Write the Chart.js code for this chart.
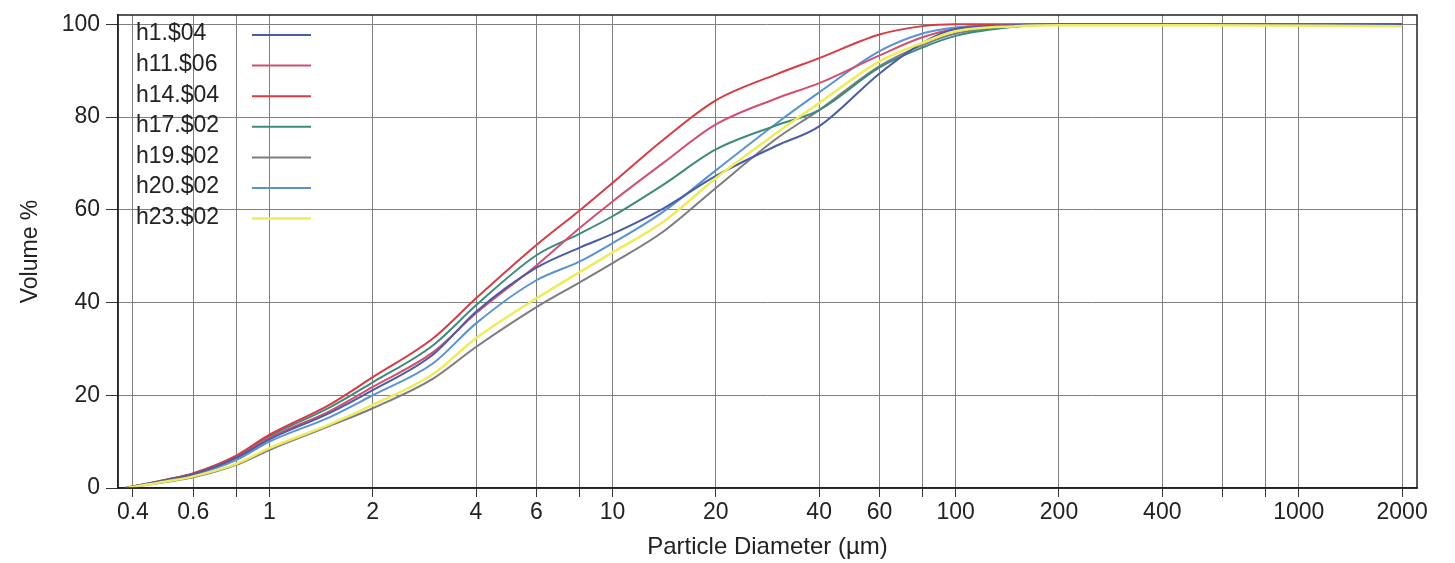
<!DOCTYPE html>
<html>
<head>
<meta charset="utf-8">
<script src="https://cdn.jsdelivr.net/npm/chart.js@4.4.1/dist/chart.umd.min.js"></script>
<style>
  html, body { margin: 0; padding: 0; background: #fff; }
  #wrap { width: 1455px; height: 563px; }
</style>
</head>
<body>
<div id="wrap"><canvas id="psd" width="1455" height="563"></canvas></div>
<script>
// particle diameters (µm) the curves are sampled at
const diameters = [0.38, 0.5, 0.6, 0.8, 1, 1.5, 2, 3, 4, 6, 8, 10, 14, 20, 30, 40, 60, 80, 100, 150, 200, 500, 2000]

// cumulative volume % for each sample
const h1 = [0, 1.7, 3.0, 6.5, 10.5, 16.2, 21.1, 28.8, 38.0, 47.5, 51.8, 54.8, 60.2, 67.3, 73.8, 78.0, 89.4, 96.0, 99.0, 99.8, 100, 100, 100]
const h11 = [0, 1.7, 3.0, 6.5, 10.8, 16.6, 21.8, 29.3, 37.7, 48.0, 56.0, 61.8, 70.0, 78.4, 84.0, 87.3, 93.3, 97.2, 99.0, 99.8, 100, 100, 100]
const h14 = [0, 1.8, 3.2, 7.0, 11.5, 18.0, 23.9, 32.3, 40.9, 52.4, 59.8, 65.8, 75.0, 83.6, 89.2, 92.7, 97.8, 99.6, 100, 100, 100, 100, 100]
const h17 = [0, 1.8, 3.1, 6.8, 11.2, 17.4, 22.8, 30.8, 39.4, 50.2, 54.8, 58.6, 65.3, 73.0, 78.2, 81.5, 90.7, 95.0, 97.5, 99.5, 100, 100, 100]
const h19 = [0, 1.3, 2.3, 5.0, 8.2, 13.4, 17.2, 23.6, 30.4, 39.0, 44.3, 48.5, 55.2, 64.7, 75.3, 81.5, 91.0, 95.5, 98.0, 99.5, 100, 100, 100]
const h20 = [0, 1.6, 2.8, 6.0, 10.0, 15.3, 20.0, 26.9, 35.5, 44.8, 48.8, 52.8, 59.5, 68.5, 78.6, 85.3, 94.2, 98.0, 99.3, 99.9, 100, 100, 100]
const h23 = [0, 1.4, 2.5, 5.2, 8.6, 13.7, 17.9, 24.6, 32.3, 40.9, 46.5, 50.8, 57.3, 66.8, 76.5, 83.0, 92.0, 96.0, 98.5, 99.6, 99.8, 99.8, 99.6]

const seriesNames = ['h1.$04', 'h11.$06', 'h14.$04', 'h17.$02', 'h19.$02', 'h20.$02', 'h23.$02']
const seriesValues = [h1, h11, h14, h17, h19, h20, h23]
const seriesColors = ['#4b5ca6', '#d2506f', '#d63c45', '#3e8a7b', '#7c7c82', '#5a92d4', '#eeec5a']

// axis ticks
const gridTicks = [0.4, 0.6, 0.8, 1, 2, 4, 6, 8, 10, 20, 40, 60, 80, 100, 200, 400, 600, 800, 1000, 2000]
const labelTicks = [0.4, 0.6, 1, 2, 4, 6, 10, 20, 40, 60, 100, 200, 400, 1000, 2000]
const yTicks = [0, 20, 40, 60, 80, 100]

const FONT = "'Liberation Sans', Arial, sans-serif"
const INK = '#222'

const datasets = seriesNames.map((name, i) => ({
  label: name,
  data: diameters.map((d, j) => ({ x: d, y: seriesValues[i][j] })),
  borderColor: seriesColors[i],
  backgroundColor: seriesColors[i],
  borderWidth: i === 6 ? 2.5 : 2,
  pointRadius: 0,
  cubicInterpolationMode: 'monotone',
  order: i === 6 ? -1 : i
}))

// legend drawn inside the plot, text first then a line sample
const insideLegend = {
  id: 'insideLegend',
  afterDatasetsDraw(chart) {
    const { ctx, chartArea } = chart
    ctx.save()
    ctx.font = '23px ' + FONT
    ctx.textBaseline = 'middle'
    ctx.textAlign = 'left'
    seriesNames.forEach((name, i) => {
      const y = chartArea.top + 19 + i * 30.6
      ctx.fillStyle = INK
      ctx.fillText(name, chartArea.left + 18, y)
      ctx.strokeStyle = seriesColors[i]
      ctx.lineWidth = i === 6 ? 2.5 : 2
      ctx.beginPath()
      ctx.moveTo(chartArea.left + 134, y + 1)
      ctx.lineTo(chartArea.left + 193, y + 1)
      ctx.stroke()
    })
    ctx.restore()
  }
}

// box round the plot area
const frame = {
  id: 'frame',
  afterDraw(chart) {
    const { ctx, chartArea } = chart
    ctx.save()
    ctx.strokeStyle = INK
    ctx.lineWidth = 1.5
    ctx.strokeRect(chartArea.left, chartArea.top, chartArea.right - chartArea.left, chartArea.bottom - chartArea.top)
    ctx.restore()
  }
}

new Chart(document.getElementById('psd').getContext('2d'), {
  type: 'line',
  data: { datasets },
  plugins: [insideLegend, frame],
  options: {
    responsive: false,
    animation: false,
    layout: { padding: { top: 15, right: 38, left: 0, bottom: 0 } },
    plugins: { legend: { display: false }, tooltip: { enabled: false } },
    scales: {
      x: {
        type: 'logarithmic',
        min: 0.362,
        max: 2210,
        afterBuildTicks: (scale) => { scale.ticks = gridTicks.map(v => ({ value: v })) },
        afterFit: (scale) => { scale.height = 75 },
        ticks: {
          autoSkip: false,
          maxRotation: 0,
          padding: 2,
          color: INK,
          font: { family: FONT, size: 23 },
          callback: (v) => labelTicks.includes(v) ? String(v) : ''
        },
        grid: { color: '#808080', lineWidth: 1, tickLength: 9, tickColor: '#333' },
        border: { color: INK, width: 1.5 },
        title: {
          display: true,
          text: 'Particle Diameter (µm)',
          color: INK,
          font: { family: FONT, size: 24 },
          padding: { top: 0, bottom: 1 }
        }
      },
      y: {
        min: 0,
        max: 102,
        afterBuildTicks: (scale) => { scale.ticks = yTicks.map(v => ({ value: v })) },
        afterFit: (scale) => {
          scale.width = 118
          scale.paddingTop = 0
          scale.paddingBottom = 0
        },
        ticks: {
          padding: 6,
          color: INK,
          font: { family: FONT, size: 23 }
        },
        grid: { color: '#808080', lineWidth: 1, tickLength: 12, tickColor: '#333' },
        border: { color: INK, width: 1.5 },
        title: {
          display: true,
          text: 'Volume %',
          color: INK,
          font: { family: FONT, size: 23 },
          padding: { top: 17, bottom: 0 }
        }
      }
    }
  }
})
</script>
</body>
</html>
